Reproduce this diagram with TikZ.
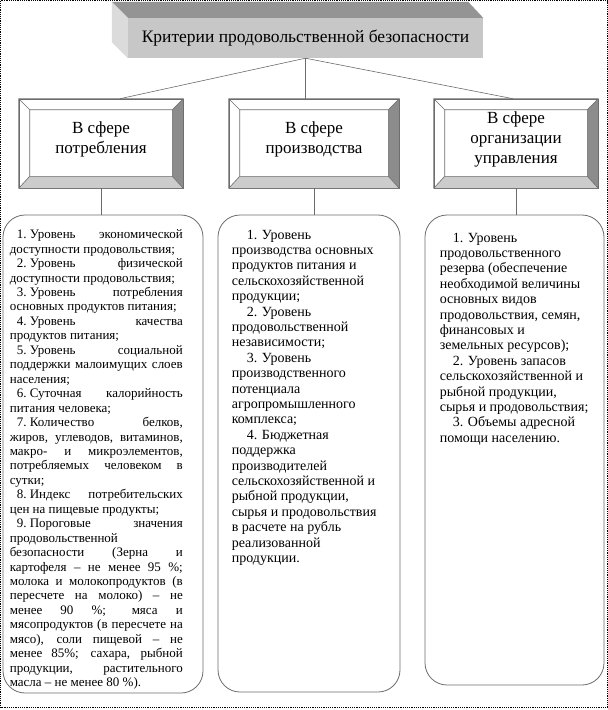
\documentclass[tikz,border=0pt]{standalone}
\usepackage{fontspec}
\setmainfont{Liberation Serif}
\usepackage{xcolor}
\usetikzlibrary{calc,positioning}
\definecolor{hdrtop}{gray}{0.58}
\definecolor{hdrfront}{gray}{0.78}
\definecolor{hdrside}{gray}{0.86}
\definecolor{bevdark}{gray}{0.55}
\definecolor{bevlight}{gray}{0.8}
\definecolor{lnc}{gray}{0.42}
\newlength{\lstw}
\setlength{\lstw}{173pt}
\newcommand{\jl}[1]{\makebox[\lstw][s]{#1}}
\newcommand{\itm}[1]{\hspace*{7pt}#1.\hspace*{3.3pt}}
\newcommand{\indr}{\hspace*{15pt}}
\begin{document}
\begin{tikzpicture}[x=1pt,y=-1pt,
hdrface/.style={fill=hdrfront,minimum width=355,minimum height=40,inner sep=0,font=\fontsize{17.5}{20}\selectfont},
bevbox/.style={draw=lnc,line width=0.6pt,minimum height=89,inner sep=0,align=center,text depth=12pt,font=\fontsize{17}{20}\selectfont},
lstbox/.style={draw=lnc,line width=0.8pt,rounded corners=22pt,inner sep=0},
lsttext/.style={anchor=north west,inner sep=0,align=left},
link/.style={draw=lnc,line width=0.6pt}]
\useasboundingbox (0,0) rectangle (608,710);
\node[hdrface] (hdr) at (305.5,38) {Критерии продовольственной безопасности};
\fill[hdrtop] (hdr.north west)--++(-16,-16)--([shift={(-15,-16)}]hdr.north east)--(hdr.north east)--cycle;
\fill[hdrside] (hdr.north west)--++(-16,-16)--([shift={(-16,-16)}]hdr.south west)--(hdr.south west)--cycle;
\node[bevbox,minimum width=164] (cons) at (101,143.5) {В сфере\\потребления};
\node[bevbox,minimum width=170] (prod) at (314,143.5) {В сфере\\производства};
\node[bevbox,minimum width=164] (mgmt) at (516,143.5) {В сфере\\организации\\управления};
\foreach \b in {cons,prod,mgmt}{
\coordinate (\b-nw) at ($(\b.north west)+(11,11)$);
\coordinate (\b-ne) at ($(\b.north east)+(-11,11)$);
\coordinate (\b-se) at ($(\b.south east)+(-11,-12)$);
\coordinate (\b-sw) at ($(\b.south west)+(11,-12)$);
\fill[bevdark] (\b.north east)--(\b.south east)--(\b-se)--(\b-ne)--cycle;
\fill[bevlight] (\b.south west)--(\b.south east)--(\b-se)--(\b-sw)--cycle;
\draw[link] (\b.north west) rectangle (\b.south east) (\b-nw) rectangle (\b-se)
(\b.north west)--(\b-nw) (\b.north east)--(\b-ne) (\b.south east)--(\b-se) (\b.south west)--(\b-sw);
}
\node[lstbox,minimum width=200,minimum height=478] (conslst) at (103,454) {};
\node[lstbox,minimum width=182,minimum height=477] (prodlst) at (309,453.5) {};
\node[lstbox,minimum width=179,minimum height=470] (mgmtlst) at (514.5,450) {};
\draw[link] (hdr.south)--([xshift=19pt]cons.north);
\draw[link] (hdr.south)--(hdr.south |- prod.north);
\draw[link] (hdr.south)--([xshift=-3pt]mgmt.north);
\draw[link] (cons.south)--(cons.south |- conslst.north);
\draw[link] (prod.south)--(prod.south |- prodlst.north);
\draw[link] (mgmt.south)--(mgmt.south |- mgmtlst.north);
\node[lsttext,font=\fontsize{13}{14.45}\selectfont] (constxt) at ([shift={(7,15)}]conslst.north west) {%
\jl{\itm{1}Уровень экономической}\\
доступности продовольствия;\\
\jl{\itm{2}Уровень физической}\\
доступности продовольствия;\\
\jl{\itm{3}Уровень потребления}\\
основных продуктов питания;\\
\jl{\itm{4}Уровень качества}\\
продуктов питания;\\
\jl{\itm{5}Уровень социальной}\\
\jl{поддержки малоимущих слоев}\\
населения;\\
\jl{\itm{6}Суточная калорийность}\\
питания человека;\\
\jl{\itm{7}Количество белков,}\\
\jl{жиров, углеводов, витаминов,}\\
\jl{макро- и микроэлементов,}\\
\jl{потребляемых человеком в}\\
сутки;\\
\jl{\itm{8}Индекс потребительских}\\
цен на пищевые продукты;\\
\jl{\itm{9}Пороговые значения}\\
продовольственной\\
\jl{безопасности (Зерна и}\\
\jl{картофеля – не менее 95 \%;}\\
\jl{молока и молокопродуктов (в}\\
\jl{пересчете на молоко) – не}\\
\jl{менее 90 \%; мяса и}\\
\jl{мясопродуктов (в пересчете на}\\
\jl{мясо), соли пищевой – не}\\
\jl{менее 85\%; сахара, рыбной}\\
\jl{продукции, растительного}\\
масла – не менее 80 \%).};
\node[lsttext,font=\fontsize{14}{15.4}\selectfont] (prodtxt) at ([shift={(14,15)}]prodlst.north west) {%
\indr 1. Уровень\\
производства основных\\
продуктов питания и\\
сельскохозяйственной\\
продукции;\\
\indr 2. Уровень\\
продовольственной\\
независимости;\\
\indr 3. Уровень\\
производственного\\
потенциала\\
агропромышленного\\
комплекса;\\
\indr 4. Бюджетная\\
поддержка\\
производителей\\
сельскохозяйственной и\\
рыбной продукции,\\
сырья и продовольствия\\
в расчете на рубль\\
реализованной\\
продукции.};
\node[lsttext,font=\fontsize{14}{15.4}\selectfont] (mgmttxt) at ([shift={(15,18)}]mgmtlst.north west) {%
\hspace*{13pt}1. Уровень\\
продовольственного\\
резерва (обеспечение\\
необходимой величины\\
основных видов\\
продовольствия, семян,\\
финансовых и\\
земельных ресурсов);\\
\hspace*{13pt}2. Уровень запасов\\
сельскохозяйственной и\\
рыбной продукции,\\
сырья и продовольствия;\\
\hspace*{13pt}3. Объемы адресной\\
помощи населению.};
\draw[densely dotted,line width=1.2pt] (0.6,0.6) rectangle (607.4,707.4);
\end{tikzpicture}
\end{document}
